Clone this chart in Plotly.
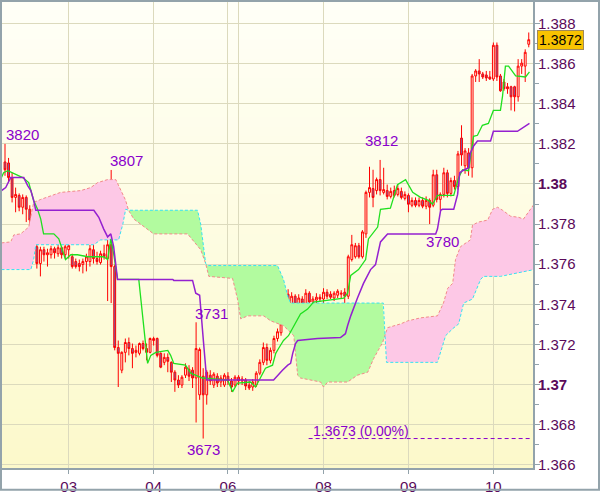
import numpy as np
import plotly.graph_objects as go

# ---------------- data ----------------
candle_index = list(range(149))

open_prices = [
    1.38110, 1.38105, 1.38032, 1.37933, 1.37943, 1.37884, 1.37933, 1.37874, 1.37820, 1.37687,
    1.37603, 1.37672, 1.37647, 1.37647, 1.37677, 1.37652, 1.37682, 1.37647, 1.37672, 1.37637,
    1.37613, 1.37603, 1.37598, 1.37613, 1.37613, 1.37672, 1.37628, 1.37608, 1.37652, 1.37628,
    1.37697, 1.37588, 1.37184, 1.37071, 1.37160, 1.37209, 1.37179, 1.37160, 1.37155, 1.37204,
    1.37179, 1.37160, 1.37219, 1.37229, 1.37155, 1.37110, 1.37135, 1.37110, 1.37061, 1.37022,
    1.36997, 1.37046, 1.37076, 1.37071, 1.37032, 1.36948, 1.37041, 1.36948, 1.37046, 1.36997,
    1.37041, 1.37012, 1.36997, 1.37041, 1.37017, 1.36997, 1.37036, 1.37017, 1.37022, 1.36997,
    1.36987, 1.36997, 1.37056, 1.37110, 1.37184, 1.37120, 1.37170, 1.37229, 1.37258, 1.37391,
    1.37450, 1.37391, 1.37440, 1.37401, 1.37426, 1.37401, 1.37455, 1.37411, 1.37421, 1.37435,
    1.37426, 1.37460, 1.37450, 1.37431, 1.37445, 1.37450, 1.37460, 1.37440, 1.37623, 1.37637,
    1.37692, 1.37637, 1.37751, 1.37958, 1.37977, 1.37967, 1.38022, 1.37958, 1.37967, 1.37938,
    1.37967, 1.37948, 1.37963, 1.37928, 1.37943, 1.37894, 1.37918, 1.37894, 1.37918, 1.37889,
    1.37918, 1.37894, 1.38046, 1.37923, 1.37948, 1.38056, 1.37953, 1.38017, 1.37987, 1.38229,
    1.38091, 1.38155, 1.38081, 1.38539, 1.38564, 1.38549, 1.38544, 1.38534, 1.38524, 1.38692,
    1.38539, 1.38509, 1.38485, 1.38485, 1.38485, 1.38435, 1.38588, 1.38588, 1.38697,
]
high_prices = [
    1.38200, 1.38130, 1.38056, 1.37982, 1.37953, 1.37948, 1.37943, 1.37894, 1.37835, 1.37701,
    1.37687, 1.37687, 1.37677, 1.37692, 1.37687, 1.37697, 1.37692, 1.37706, 1.37711, 1.37652,
    1.37628, 1.37623, 1.37628, 1.37652, 1.37697, 1.37697, 1.37662, 1.37667, 1.37697, 1.37982,
    1.38070, 1.37598, 1.37219, 1.37165, 1.37229, 1.37234, 1.37204, 1.37194, 1.37209, 1.37219,
    1.37204, 1.37234, 1.37238, 1.37234, 1.37160, 1.37155, 1.37155, 1.37115, 1.37071, 1.37046,
    1.37046, 1.37105, 1.37096, 1.37086, 1.37310, 1.37184, 1.37081, 1.37071, 1.37071, 1.37061,
    1.37056, 1.37046, 1.37056, 1.37061, 1.37032, 1.37046, 1.37046, 1.37041, 1.37032, 1.37017,
    1.37027, 1.37066, 1.37125, 1.37209, 1.37204, 1.37184, 1.37243, 1.37279, 1.37317, 1.37465,
    1.37475, 1.37460, 1.37450, 1.37450, 1.37440, 1.37475, 1.37465, 1.37440, 1.37455, 1.37450,
    1.37480, 1.37475, 1.37465, 1.37465, 1.37475, 1.37470, 1.37480, 1.37647, 1.37746, 1.37706,
    1.37706, 1.37770, 1.37967, 1.38086, 1.38071, 1.38032, 1.38120, 1.38081, 1.37997, 1.37982,
    1.37992, 1.37997, 1.37982, 1.37963, 1.37953, 1.37933, 1.37933, 1.37933, 1.37933, 1.37938,
    1.37928, 1.38071, 1.38071, 1.37958, 1.38081, 1.38071, 1.38032, 1.38041, 1.38165, 1.38293,
    1.38179, 1.38179, 1.38549, 1.38573, 1.38623, 1.38559, 1.38564, 1.38564, 1.38706, 1.38706,
    1.38549, 1.38524, 1.38504, 1.38490, 1.38490, 1.38623, 1.38623, 1.38672, 1.38756,
]
low_prices = [
    1.38041, 1.38007, 1.37908, 1.37859, 1.37864, 1.37849, 1.37810, 1.37785, 1.37672, 1.37578,
    1.37539, 1.37613, 1.37588, 1.37628, 1.37628, 1.37637, 1.37628, 1.37628, 1.37628, 1.37578,
    1.37578, 1.37564, 1.37554, 1.37564, 1.37588, 1.37603, 1.37598, 1.37598, 1.37623, 1.37416,
    1.37406, 1.37170, 1.36987, 1.37056, 1.37110, 1.37145, 1.37081, 1.37135, 1.37145, 1.37170,
    1.37120, 1.37155, 1.37194, 1.37135, 1.37081, 1.37096, 1.37061, 1.37012, 1.36963, 1.36982,
    1.36982, 1.37032, 1.37017, 1.36982, 1.36810, 1.36923, 1.36730, 1.36899, 1.36997, 1.36982,
    1.36987, 1.36987, 1.36987, 1.36997, 1.36963, 1.36987, 1.36997, 1.36997, 1.36972, 1.36972,
    1.36968, 1.36987, 1.37046, 1.37096, 1.37096, 1.37105, 1.37155, 1.37214, 1.37243, 1.37293,
    1.37391, 1.37376, 1.37381, 1.37381, 1.37391, 1.37391, 1.37391, 1.37396, 1.37406, 1.37411,
    1.37406, 1.37426, 1.37426, 1.37416, 1.37431, 1.37426, 1.37367, 1.37426, 1.37613, 1.37628,
    1.37628, 1.37628, 1.37731, 1.37933, 1.37884, 1.37948, 1.37943, 1.37948, 1.37923, 1.37928,
    1.37933, 1.37938, 1.37923, 1.37918, 1.37859, 1.37884, 1.37884, 1.37884, 1.37879, 1.37874,
    1.37800, 1.37884, 1.37908, 1.37869, 1.37933, 1.37933, 1.37938, 1.37972, 1.37972, 1.38091,
    1.38051, 1.38041, 1.38032, 1.38509, 1.38509, 1.38524, 1.38514, 1.38519, 1.38514, 1.38514,
    1.38460, 1.38465, 1.38450, 1.38367, 1.38362, 1.38411, 1.38549, 1.38509, 1.38682,
]
close_prices = [
    1.38071, 1.38032, 1.37933, 1.37948, 1.37884, 1.37933, 1.37874, 1.37820, 1.37687, 1.37603,
    1.37672, 1.37647, 1.37657, 1.37677, 1.37657, 1.37682, 1.37647, 1.37687, 1.37692, 1.37588,
    1.37588, 1.37588, 1.37613, 1.37637, 1.37677, 1.37628, 1.37613, 1.37652, 1.37637, 1.37697,
    1.37588, 1.37184, 1.37155, 1.37160, 1.37209, 1.37179, 1.37155, 1.37170, 1.37204, 1.37179,
    1.37160, 1.37229, 1.37229, 1.37145, 1.37086, 1.37135, 1.37115, 1.37061, 1.37022, 1.36997,
    1.37036, 1.37086, 1.37041, 1.37032, 1.37179, 1.37174, 1.36948, 1.37061, 1.37017, 1.37051,
    1.37007, 1.37032, 1.37046, 1.37017, 1.36987, 1.37036, 1.37017, 1.37027, 1.36992, 1.36982,
    1.37012, 1.37056, 1.37110, 1.37184, 1.37120, 1.37170, 1.37229, 1.37263, 1.37302, 1.37450,
    1.37411, 1.37440, 1.37396, 1.37431, 1.37406, 1.37455, 1.37411, 1.37426, 1.37435, 1.37426,
    1.37460, 1.37440, 1.37435, 1.37455, 1.37465, 1.37455, 1.37440, 1.37637, 1.37697, 1.37692,
    1.37637, 1.37761, 1.37958, 1.37982, 1.37933, 1.38022, 1.37967, 1.37972, 1.37938, 1.37963,
    1.37943, 1.37977, 1.37933, 1.37948, 1.37899, 1.37918, 1.37894, 1.37918, 1.37889, 1.37918,
    1.37884, 1.38046, 1.37923, 1.37948, 1.38056, 1.37953, 1.38017, 1.37987, 1.38150, 1.38145,
    1.38165, 1.38081, 1.38539, 1.38564, 1.38549, 1.38534, 1.38529, 1.38524, 1.38692, 1.38534,
    1.38465, 1.38475, 1.38475, 1.38435, 1.38435, 1.38588, 1.38603, 1.38657, 1.38720,
]

# Ichimoku lines, read as polyline vertices (candle index, price)
tenkan_x = [-1, -0.4, 0.8, 5.0, 6.7, 8.1, 9.2, 10.1, 10.9, 13.8, 15.2, 15.7, 17.1, 18.6, 20.5,
            23.4, 27.9, 29.0, 29.9, 30.7, 31.8, 37.8, 39.2, 40.3, 41.2, 42.6, 46.0, 46.8, 47.7,
            51.0, 52.5, 55.8, 62.9, 64.3, 65.7, 69.4, 70.8, 72.2, 73.6, 75.6, 76.5, 77.3, 78.7,
            80.1, 81.6, 83.5, 85.5, 87.2, 95.7, 96.8, 97.7, 99.9, 101.9, 102.7, 105.3, 106.1,
            108.9, 109.8, 110.9, 113.2, 115.2, 117.4, 119.7, 120.8, 122.2, 126.8, 128.2, 129.3,
            131.0, 132.4, 133.5, 134.9, 136.6, 138.0, 140.0, 140.6, 141.4, 142.3, 144.3, 147.1, 148.2]
tenkan_y = [1.38032, 1.38056, 1.38066, 1.38032, 1.38007, 1.37918, 1.37874, 1.37825, 1.37751, 1.37751,
            1.37726, 1.37701, 1.37623, 1.37647, 1.37647, 1.37637, 1.37637, 1.37623, 1.37726, 1.37652,
            1.37524, 1.37524, 1.37293, 1.37105, 1.37145, 1.37160, 1.37170, 1.37145, 1.37105, 1.37096,
            1.37056, 1.37032, 1.37022, 1.36963, 1.37007, 1.37012, 1.36987, 1.37032, 1.37081, 1.37096,
            1.37155, 1.37179, 1.37219, 1.37243, 1.37293, 1.37352, 1.37376, 1.37411, 1.37431, 1.37455,
            1.37544, 1.37573, 1.37623, 1.37726, 1.37785, 1.37874, 1.37879, 1.37933, 1.37997, 1.38022,
            1.37958, 1.37933, 1.37918, 1.37899, 1.37943, 1.37943, 1.38032, 1.38071, 1.38066, 1.38238,
            1.38243, 1.38293, 1.38302, 1.38367, 1.38367, 1.38440, 1.38588, 1.38588, 1.38539, 1.38534,
            1.38559]

kijun_x = [-1, 0.2, 1.6, 5.3, 6.4, 7.3, 8.1, 8.7, 25.1, 26.5, 27.9, 29.0, 29.9, 30.7, 31.8, 47.4,
           47.7, 53.0, 53.9, 55.0, 56.1, 57.0, 75.9, 77.0, 78.4, 79.9, 80.7, 81.3, 82.1, 82.7, 88.3,
           94.8, 96.2, 96.8, 97.7, 99.6, 101.3, 103.3, 104.7, 106.1, 108.1, 121.7, 122.2, 123.1,
           123.6, 126.8, 127.9, 128.5, 129.3, 131.0, 131.5, 132.4, 133.5, 137.2, 138.0, 144.8,
           146.2, 147.1, 148.2]
kijun_y = [1.37967, 1.37982, 1.38032, 1.38032, 1.37992, 1.37967, 1.37918, 1.37869, 1.37869, 1.37834,
           1.37775, 1.37736, 1.37751, 1.37687, 1.37524, 1.37524, 1.37519, 1.37519, 1.37455, 1.37445,
           1.37209, 1.37022, 1.37022, 1.37046, 1.37071, 1.37096, 1.37105, 1.37155, 1.37204, 1.37219,
           1.37229, 1.37234, 1.37253, 1.37293, 1.37342, 1.37431, 1.37504, 1.37573, 1.37598, 1.37711,
           1.37751, 1.37751, 1.37775, 1.37869, 1.37874, 1.37874, 1.37948, 1.38056, 1.38066, 1.38081,
           1.38155, 1.38189, 1.38214, 1.38214, 1.38263, 1.38263, 1.38278, 1.38288, 1.38302]

span_a_x = [-1, 1.6, 2.5, 4.4, 6.7, 8.1, 10.1, 15.7, 21.4, 24.2, 26.2, 29.0, 31.3, 32.7, 34.1, 34.9,
            36.4, 42.0, 51.6, 55.3, 56.7, 57.6, 64.3, 65.7, 66.6, 68.6, 73.1, 75.1, 78.7, 81.6, 82.7,
            83.5, 89.2, 90.0, 91.2, 96.8, 99.6, 102.5, 104.2, 106.7, 108.1, 111.8, 113.8, 117.4,
            122.2, 123.9, 125.1, 126.5, 127.3, 128.7, 131.5, 132.1, 133.8, 136.4, 137.8, 139.2,
            140.6, 142.9, 145.1, 146.5, 147.9, 149.5]
span_a_y = [1.37706, 1.37711, 1.37746, 1.37751, 1.37785, 1.37908, 1.37923, 1.37958, 1.37967, 1.37982,
            1.38007, 1.38022, 1.38022, 1.37967, 1.37918, 1.37869, 1.37825, 1.37751, 1.37751, 1.37672,
            1.37603, 1.37539, 1.37529, 1.37426, 1.37327, 1.37342, 1.37342, 1.37317, 1.37293, 1.37243,
            1.37046, 1.37032, 1.37012, 1.36987, 1.37012, 1.37012, 1.37046, 1.37061, 1.37130, 1.37209,
            1.37283, 1.37302, 1.37317, 1.37332, 1.37342, 1.37406, 1.37480, 1.37504, 1.37623, 1.37687,
            1.37721, 1.37795, 1.37810, 1.37820, 1.37874, 1.37884, 1.37869, 1.37839, 1.37834, 1.37825,
            1.37859, 1.37899]

span_b_x = [-1, 7.3, 8.1, 8.7, 25.1, 26.2, 27.0, 32.1, 33.3, 34.1, 34.9, 54.4, 55.3, 56.7, 57.3,
            77.0, 78.7, 79.9, 80.7, 106.9, 107.8, 122.2, 123.6, 124.5, 126.5, 128.2, 129.6, 132.1,
            134.4, 135.2, 140.0, 142.8, 147.6, 149.5]
span_b_y = [1.37573, 1.37573, 1.37623, 1.37697, 1.37697, 1.37711, 1.37721, 1.37721, 1.37800, 1.37874,
            1.37869, 1.37869, 1.37800, 1.37603, 1.37593, 1.37593, 1.37524, 1.37440, 1.37406, 1.37406,
            1.37110, 1.37110, 1.37194, 1.37243, 1.37278, 1.37302, 1.37406, 1.37426, 1.37524, 1.37539,
            1.37539, 1.37549, 1.37564, 1.37573]

x_tick_vals = [18, 42, 63, 66, 90, 114, 138]
x_tick_text = ["03", "04", "06", "", "08", "09", "10"]
y_tick_vals = [1.366, 1.368, 1.370, 1.372, 1.374, 1.376, 1.378, 1.380, 1.382, 1.384, 1.386, 1.388]
y_tick_text = ["1.366", "1.368", "<b>1.37</b>", "1.372", "1.374", "1.376", "1.378",
               "<b>1.38</b>", "1.382", "1.384", "1.386", "1.388"]
y_minor_vals = [1.367, 1.369, 1.371, 1.373, 1.375, 1.377, 1.379, 1.381, 1.383, 1.385, 1.387]

extreme_labels = ["3820", "3807", "3731", "3673", "3812", "3780"]
extreme_pos_x = [-0.4, 29.0, 53.0, 50.8, 101.3, 118.3]
extreme_pos_y = [1.38248, 1.38115, 1.37352, 1.36677, 1.38219, 1.37711]

low_marker_price = 1.3673
low_marker_text = "1.3673 (0.00%)"
last_price = 1.3872
last_price_text = "1.3872"

# ---------------- styles ----------------
AXIS_GRAY = "#93a3ab"
GRID = "#dcdabd"
TICK_FONT = "#5a0a5a"
LABEL_VIOLET = "#8a00cc"
FONT = "Liberation Sans, Arial, sans-serif"

fig = go.Figure()

# ---- cloud fills (pink where span A above span B, green otherwise) ----
gx = np.array(sorted(set(span_a_x) | set(span_b_x)), dtype=float)
ga = np.interp(gx, span_a_x, span_a_y)
gb = np.interp(gx, span_b_x, span_b_y)
pts = [(gx[0], ga[0], gb[0])]
for k in range(1, len(gx)):
    d0 = ga[k - 1] - gb[k - 1]
    d1 = ga[k] - gb[k]
    if d0 * d1 < 0:
        t = d0 / (d0 - d1)
        xc = gx[k - 1] + t * (gx[k] - gx[k - 1])
        yc = ga[k - 1] + t * (ga[k] - ga[k - 1])
        pts.append((xc, yc, yc))
    pts.append((gx[k], ga[k], gb[k]))

segs = []
cur = []
cur_sign = 0
for p in pts:
    s = np.sign(round(p[1] - p[2], 10))
    if s != 0 and cur_sign != 0 and s != cur_sign:
        segs.append((cur_sign, cur))
        cur = [cur[-1]]
    if s != 0:
        cur_sign = s
    cur.append(p)
segs.append((cur_sign, cur))

for sign, seg in segs:
    if sign == 0 or len(seg) < 2:
        continue
    xs = [q[0] for q in seg]
    ya_ = [q[1] for q in seg]
    yb_ = [q[2] for q in seg]
    fig.add_trace(go.Scatter(
        x=xs + xs[::-1], y=ya_ + yb_[::-1], mode="lines", fill="toself",
        fillcolor="#fdc8e6" if sign > 0 else "#b2fb9f",
        line=dict(width=0), hoverinfo="skip"))

fig.add_trace(go.Scatter(x=span_a_x, y=span_a_y, mode="lines",
                         line=dict(color="#f28a8a", width=1, dash="3px,2px"), hoverinfo="skip"))
fig.add_trace(go.Scatter(x=span_b_x, y=span_b_y, mode="lines",
                         line=dict(color="#36e2f2", width=1, dash="3px,2px"), hoverinfo="skip"))

# ---- candles ----
fig.add_trace(go.Candlestick(
    x=candle_index, open=open_prices, high=high_prices, low=low_prices, close=close_prices,
    increasing=dict(line=dict(color="#ff0000", width=1), fillcolor="#fffde6"),
    decreasing=dict(line=dict(color="#ff0000", width=1), fillcolor="#7b62a8"),
    whiskerwidth=0, hoverinfo="skip"))

# ---- tenkan / kijun ----
fig.add_trace(go.Scatter(x=tenkan_x, y=tenkan_y, mode="lines",
                         line=dict(color="#1fe01f", width=1.3), hoverinfo="skip"))
fig.add_trace(go.Scatter(x=kijun_x, y=kijun_y, mode="lines",
                         line=dict(color="#9420d0", width=1.5), hoverinfo="skip"))

# ---- background gradient ----
shapes = []
n = 48
top = (255, 255, 247)
bot = (252, 249, 203)
for k in range(n):
    t = (k + 0.5) / n
    c = tuple(int(round(top[j] + (bot[j] - top[j]) * t)) for j in range(3))
    shapes.append(dict(type="rect", xref="paper", yref="paper", x0=0, x1=1,
                       y0=1 - (k + 1) / n, y1=min(1, 1 - k / n + 0.003),
                       fillcolor="rgb(%d,%d,%d)" % c, line=dict(width=0), layer="below"))

# low marker dashed line
shapes.append(dict(type="line", xref="x", yref="y", x0=85.8, x1=148.5,
                   y0=low_marker_price, y1=low_marker_price,
                   line=dict(color=LABEL_VIOLET, width=1, dash="4px,3px"), layer="above"))

# outer frame
pw, ph = 531.0, 472.0
shapes.append(dict(type="rect", xref="paper", yref="paper",
                   x0=(1 - 2) / pw, x1=(599 - 2) / pw,
                   y0=(474 - 496) / ph, y1=(474 - 1) / ph,
                   line=dict(color=AXIS_GRAY, width=2), fillcolor="rgba(0,0,0,0)", layer="above"))

annotations = []
for txt, ax_, ay_ in zip(extreme_labels, extreme_pos_x, extreme_pos_y):
    annotations.append(dict(x=ax_, y=ay_, xref="x", yref="y", text=txt, showarrow=False,
                            xanchor="left", yanchor="middle",
                            font=dict(family=FONT, size=15, color=LABEL_VIOLET)))
annotations.append(dict(x=86.4, y=1.36766, xref="x", yref="y", text=low_marker_text,
                        showarrow=False, xanchor="left", yanchor="middle",
                        font=dict(family=FONT, size=14, color=LABEL_VIOLET)))
annotations.append(dict(x=(537 - 2) / pw, y=last_price, xref="paper", yref="y",
                        text=last_price_text, showarrow=False, xanchor="left", yanchor="middle",
                        bgcolor="#f8c300", bordercolor="#a08a5a", borderwidth=1, borderpad=1,
                        font=dict(family=FONT, size=14, color="#000000")))

fig.update_layout(
    width=600, height=497,
    margin=dict(l=2, r=67, t=2, b=23),
    paper_bgcolor="#ffffff", plot_bgcolor="#fefde2",
    showlegend=False, boxgap=0.25, hovermode=False,
    font=dict(family=FONT),
    shapes=shapes, annotations=annotations,
    xaxis=dict(range=[-0.85, 149.2], rangeslider=dict(visible=False),
               tickmode="array", tickvals=x_tick_vals, ticktext=x_tick_text,
               showgrid=True, gridcolor=GRID, gridwidth=1,
               ticks="outside", ticklen=4, tickcolor=AXIS_GRAY,
               showline=True, linecolor=AXIS_GRAY, linewidth=2, zeroline=False,
               tickfont=dict(family=FONT, size=15, color=TICK_FONT)),
    yaxis=dict(side="right", range=[1.36583, 1.38908],
               tickmode="array", tickvals=y_tick_vals, ticktext=y_tick_text,
               showgrid=True, gridcolor=GRID, gridwidth=1,
               ticks="outside", ticklen=5, tickcolor=AXIS_GRAY,
               showline=True, linecolor=AXIS_GRAY, linewidth=2, zeroline=False,
               ticklabelstandoff=-5,
               tickfont=dict(family=FONT, size=15, color=TICK_FONT),
               minor=dict(tickmode="array", tickvals=y_minor_vals, ticks="outside",
                          ticklen=4, tickcolor=AXIS_GRAY, showgrid=False)),
)

fig.write_html("out.html",
               post_script="document.body.style.margin='0px';document.body.style.overflow='hidden';",
               config={"displayModeBar": False})
